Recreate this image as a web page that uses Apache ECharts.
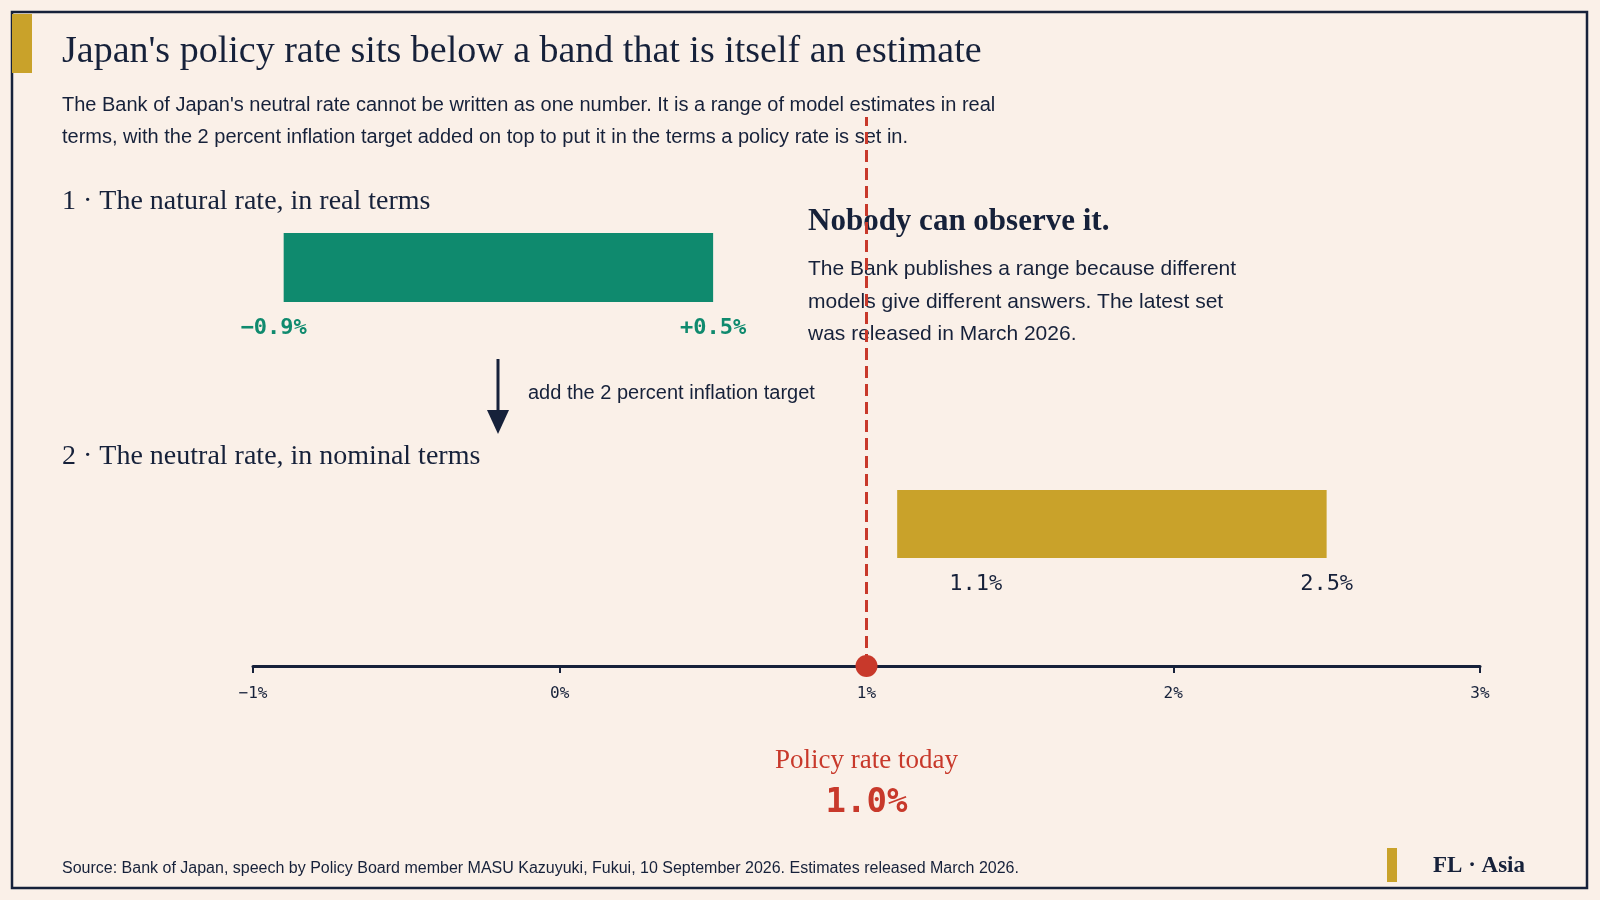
<!DOCTYPE html><html><head><meta charset="utf-8">
<script src="https://cdn.jsdelivr.net/npm/echarts@6/dist/echarts.min.js"></script>
<style>html,body{margin:0;background:#faf0e8}#c{width:1600px;height:900px}</style></head><body><div id="c"></div>
<script>
const realBand=[-0.9,0.5];
const nominalBand=[1.1,2.5];
const policyRate=1.0;
const tickLabels=['−1%','0%','1%','2%','3%'];
const navy='#16213a',green='#0f8a6e',gold='#c9a22a',red='#c8392b';
const serif='"Liberation Serif","DejaVu Serif",serif',sans='"Liberation Sans",Arial,sans-serif',mono='"DejaVu Sans Mono",monospace';
const fmt=v=>(v<0?'−':'')+Math.abs(v).toFixed(1)+'%';
const chart=echarts.init(document.getElementById('c'));
function band(data,y0,y1,color,labelColor,bold,signed,leftOff,rightOff){
 return {type:'custom',coordinateSystem:'cartesian2d',data:[data],renderItem:(p,api)=>{
  const a=api.coord([api.value(0),0])[0],b=api.coord([api.value(1),0])[0];
  const f=(bold?'bold ':'')+'22px '+mono;
  const t=v=>signed?(v>0?'+':'')+fmt(v):fmt(v);
  return {type:'group',children:[
   {type:'rect',shape:{x:a,y:y0,width:b-a,height:y1-y0},style:{fill:color}},
   {type:'text',style:{x:a+leftOff,y:y1+26,text:t(api.value(0)),font:f,fill:labelColor,align:leftOff<0?'center':'left',verticalAlign:'middle'}},
   {type:'text',style:{x:b+rightOff,y:y1+26,text:t(api.value(1)),font:f,fill:labelColor,align:'center',verticalAlign:'middle'}}]};
 }};
}
chart.setOption({
 backgroundColor:'#faf0e8',animation:false,
 grid:{left:253,right:120,top:100,bottom:234},
 xAxis:{type:'value',min:-1,max:3,interval:1,position:'bottom',
  axisLine:{lineStyle:{color:navy,width:3}},axisTick:{show:true,length:7,lineStyle:{color:navy,width:2}},
  splitLine:{show:false},axisLabel:{formatter:v=>tickLabels[Math.round(v)+1],fontFamily:mono,fontSize:16,color:navy,margin:20}},
 yAxis:{type:'value',min:0,max:1,show:false},
 series:[
  band(realBand,233,302,green,green,true,true,-10,0),
  band(nominalBand,490,558,gold,navy,false,false,52,0),
  {type:'line',data:[[policyRate,0]],symbol:'circle',symbolSize:22,itemStyle:{color:red},
   markLine:{symbol:'none',silent:true,label:{show:false},lineStyle:{color:red,type:'dashed',width:3},
    data:[[{coord:[policyRate,0]},{coord:[policyRate,0.97]}]]}},
  {type:'custom',data:[[policyRate]],renderItem:(p,api)=>{const x=api.coord([api.value(0),0])[0];return {type:'group',children:[
   {type:'text',style:{x:x,y:761,text:'Policy rate today',font:'27px '+serif,fill:red,align:'center',verticalAlign:'middle'}},
   {type:'text',style:{x:x,y:803,text:fmt(api.value(0)),font:'bold 34px '+mono,fill:red,align:'center',verticalAlign:'middle'}}]};}}
 ],
 graphic:[
  {type:'rect',shape:{x:12,y:12,width:1575,height:876},style:{fill:'none',stroke:navy,lineWidth:2.5}},
  {type:'rect',shape:{x:12,y:14,width:20,height:59},style:{fill:gold}},
  {type:'text',left:62,top:33,style:{text:"Japan's policy rate sits below a band that is itself an estimate",font:'38px '+serif,fill:navy}},
  {type:'text',left:62,top:89,style:{text:"The Bank of Japan's neutral rate cannot be written as one number. It is a range of model estimates in real\nterms, with the 2 percent inflation target added on top to put it in the terms a policy rate is set in.",font:'20px '+sans,fill:navy,lineHeight:32}},
  {type:'text',left:62,top:188,style:{text:'1 · The natural rate, in real terms',font:'28px '+serif,fill:navy}},
  {type:'text',left:62,top:443,style:{text:'2 · The neutral rate, in nominal terms',font:'28px '+serif,fill:navy}},
  {type:'text',left:808,top:206,style:{text:'Nobody can observe it.',font:'bold 31px '+serif,fill:navy}},
  {type:'text',left:808,top:253,style:{text:'The Bank publishes a range because different\nmodels give different answers. The latest set\nwas released in March 2026.',font:'21px '+sans,fill:navy,lineHeight:32.5}},
  {type:'line',shape:{x1:498,y1:359,x2:498,y2:415},style:{stroke:navy,lineWidth:3}},
  {type:'polygon',shape:{points:[[487,410],[509,410],[498,434]]},style:{fill:navy}},
  {type:'text',left:528,top:383,style:{text:'add the 2 percent inflation target',font:'20px '+sans,fill:navy}},
  {type:'text',left:62,top:861,style:{text:'Source: Bank of Japan, speech by Policy Board member MASU Kazuyuki, Fukui, 10 September 2026. Estimates released March 2026.',font:'16px '+sans,fill:navy}},
  {type:'rect',shape:{x:1387,y:848,width:10,height:34},style:{fill:gold}},
  {type:'text',left:1433,top:855,style:{text:'FL · Asia',font:'bold 23px '+serif,fill:navy}}
 ]
});
</script></body></html>
